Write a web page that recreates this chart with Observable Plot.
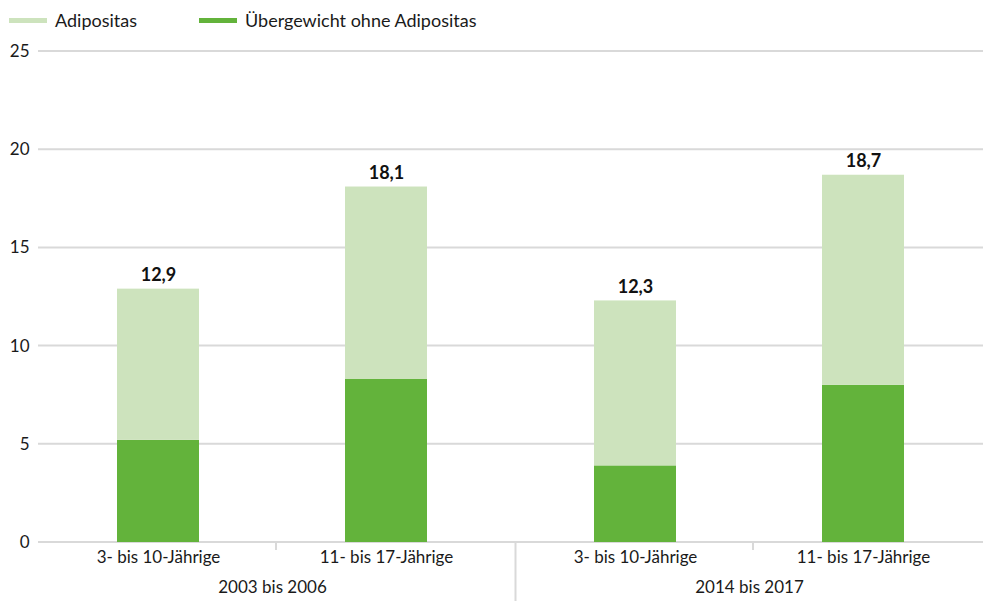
<!DOCTYPE html>
<html>
<head>
<meta charset="utf-8">
<script src="https://cdn.jsdelivr.net/npm/d3@7"></script>
<script src="https://cdn.jsdelivr.net/npm/@observablehq/plot@0.6"></script>
<style>
  html, body { margin: 0; padding: 0; background: #fff; }
  body { width: 983px; height: 601px; overflow: hidden; font-family: Lato, "Noto Sans", sans-serif; color: #1a1a1a; }
  #legend { height: 30px; position: relative; font-size: 18px; }
  .item { position: absolute; top: 9px; display: flex; align-items: center; height: 22px; }
  .sw { width: 38px; height: 5px; margin-right: 8px; }
  #chart svg { display: block; }
</style>
</head>
<body>
<div id="legend"></div>
<div id="chart"></div>
<script>
const groups = ["2003 bis 2006", "2003 bis 2006", "2014 bis 2017", "2014 bis 2017"];
const ages = ["3- bis 10-Jährige", "11- bis 17-Jährige", "3- bis 10-Jährige", "11- bis 17-Jährige"];
const uebergewichtOhne = [5.2, 8.3, 3.9, 8.0];
const adipositas = [7.7, 9.8, 8.4, 10.7];
const totals = [12.9, 18.1, 12.3, 18.7];
const seriesNames = ["Übergewicht ohne Adipositas", "Adipositas"];
const seriesColors = ["#63b33b", "#cde3bd"];
const yTicks = [0, 5, 10, 15, 20, 25];

const rows = [];
groups.forEach((g, i) => rows.push({group: g, age: ages[i], series: seriesNames[0], value: uebergewichtOhne[i]}));
groups.forEach((g, i) => rows.push({group: g, age: ages[i], series: seriesNames[1], value: adipositas[i]}));
const totalRows = groups.map((g, i) => ({group: g, age: ages[i], total: totals[i]}));

// legend (order as in reference)
const legend = document.getElementById("legend");
[[seriesNames[1], seriesColors[1], 9], [seriesNames[0], seriesColors[0], 199]].forEach(([name, color, left]) => {
  const it = document.createElement("div");
  it.className = "item";
  it.style.left = left + "px";
  it.innerHTML = `<span class="sw" style="background:${color}"></span><span>${name}</span>`;
  legend.appendChild(it);
});

const fmt = v => v.toFixed(1).replace(".", ",");
const grid = "#d9d9d9";
const H = 571;

const plot = Plot.plot({
  width: 983,
  height: H,
  marginTop: 21,
  marginBottom: 59,
  marginLeft: 38,
  marginRight: 0,
  style: {fontFamily: "Lato, 'Noto Sans', sans-serif", fontSize: "17px", color: "#1a1a1a", background: "#fff"},
  fx: {domain: [...new Set(groups)], paddingInner: 0.019, paddingOuter: 0, label: null},
  x: {domain: [...new Set(ages)], paddingInner: 0.642, paddingOuter: 0.345, label: null},
  y: {domain: [0, 25], label: null},
  color: {domain: seriesNames, range: seriesColors},
  marks: [
    Plot.axisY(yTicks, {tickSize: 0, tickPadding: 9, label: null, fontSize: 17}),
    Plot.barY(rows, {fx: "group", x: "age", y: "value", fill: "series"}),
    Plot.text(totalRows, {fx: "group", x: "age", y: "total", text: d => fmt(d.total), lineAnchor: "bottom", dy: -8, fontWeight: "bold", fontSize: 18, fill: "#111"}),
    Plot.axisX({tickSize: 0, tickPadding: 8, label: null, fontSize: 17}),
    Plot.axisFx({anchor: "bottom", tickSize: 0, tickPadding: 38, label: null, fontSize: 17})
  ]
});
document.getElementById("chart").appendChild(plot);

// continuous gridlines and separators, positioned from the plot's own scales
const fx = plot.scale("fx");
const y = plot.scale("y");
const svg = d3.select(plot);
const x0 = 38, x1 = 983;
const gridG = svg.insert("g", ":first-child");
yTicks.forEach(t => {
  gridG.append("line").attr("x1", x0).attr("x2", x1).attr("y1", y.apply(t)).attr("y2", y.apply(t))
    .attr("stroke", grid).attr("stroke-width", 2);
});
const y0 = y.apply(0);
const gap = fx.step - fx.bandwidth;
fx.domain.forEach((g, i) => {
  const start = fx.apply(g);
  const mid = start + fx.bandwidth / 2 + 4;
  svg.append("line").attr("x1", mid).attr("x2", mid).attr("y1", y0).attr("y2", y0 + 8)
    .attr("stroke", grid).attr("stroke-width", 2);
  if (i > 0) {
    const sx = start - gap / 2 + 5;
    svg.append("line").attr("x1", sx).attr("x2", sx).attr("y1", y0).attr("y2", H)
      .attr("stroke", grid).attr("stroke-width", 2);
  }
});
</script>
</body>
</html>
